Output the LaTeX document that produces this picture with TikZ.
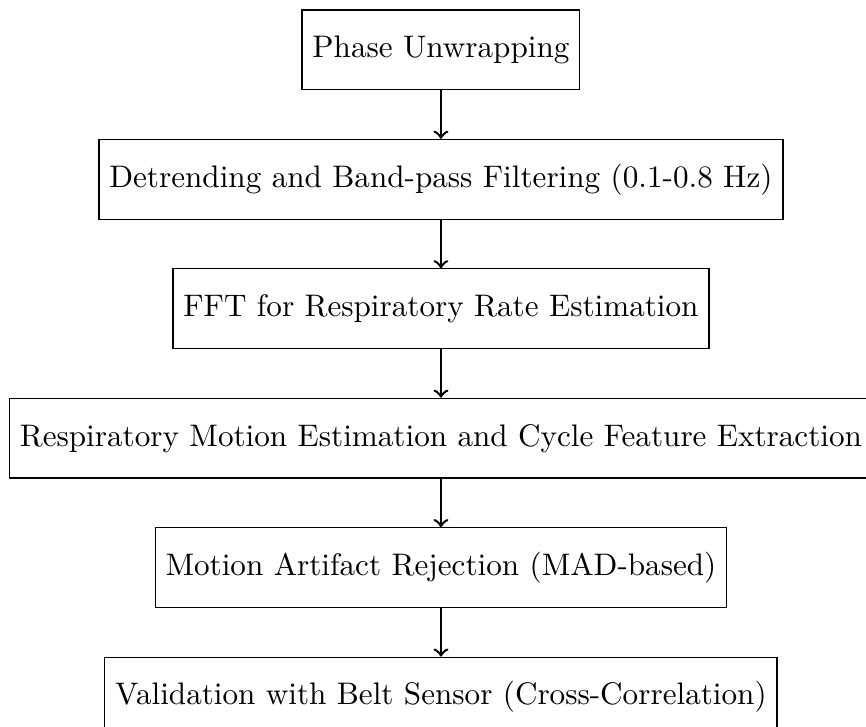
\documentclass[tikz,border=0pt]{standalone}
\usepackage{amsmath}
\usepackage{tikz}
\tikzstyle{stage} = [draw, rectangle, minimum height=0.9cm]
\tikzstyle{flow} = [->, thick]

\begin{document}
\begin{tikzpicture}
	\useasboundingbox (-141.5pt, 16pt) rectangle (136.4pt, -217pt);
	
	\node[stage] (unwrap) at (0, 0) {Phase Unwrapping};
	\node[stage] (filter) at (0, -1.46) {Detrending and Band-pass Filtering (0.1-0.8 Hz)};
	\node[stage] (fft) at (0, -2.92) {FFT for Respiratory Rate Estimation};
	\node[stage] (motion) at (0, -4.38) {Respiratory Motion Estimation and Cycle Feature Extraction};
	\node[stage] (reject) at (0, -5.84) {Motion Artifact Rejection (MAD-based)};
	\node[stage] (valid) at (0, -7.3) {Validation with Belt Sensor (Cross-Correlation)};
	
	\draw[flow] (unwrap) -- (filter);
	\draw[flow] (filter) -- (fft);
	\draw[flow] (fft) -- (motion);
	\draw[flow] (motion) -- (reject);
	\draw[flow] (reject) -- (valid);
\end{tikzpicture}
\end{document}
